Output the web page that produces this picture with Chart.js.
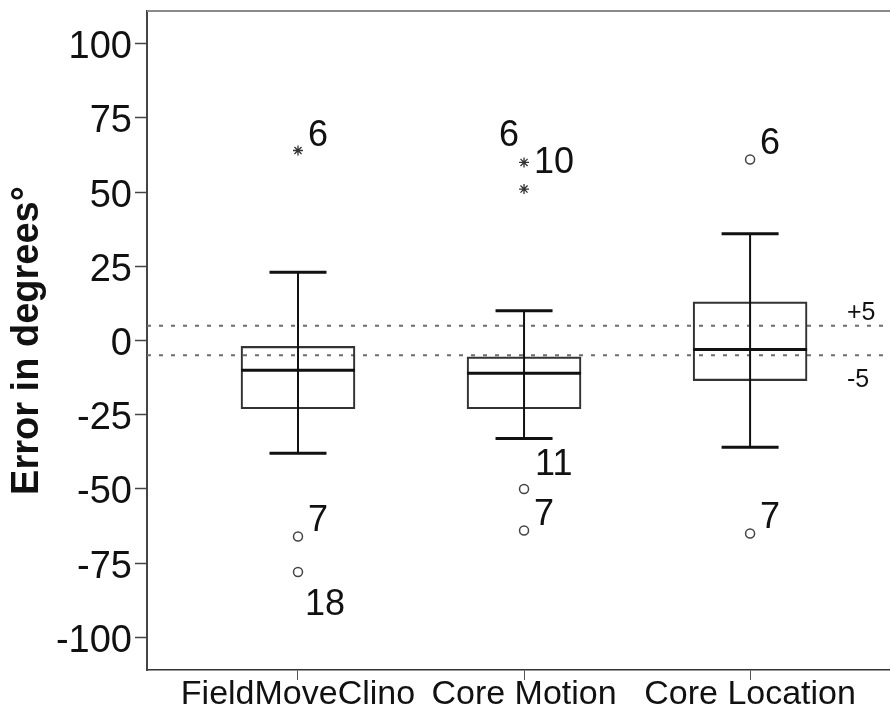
<!DOCTYPE html>
<html lang="en">
  <head>
    <meta charset="UTF-8"/>
    <title>Error in degrees</title>
    <style>
      body { margin: 0; background: #fff; }
    </style>
  </head>
  <body>
  <canvas id="myChart" width="890" height="722"></canvas>
  <script src="https://cdn.jsdelivr.net/npm/chart.js"></script>
  <script>
    const categories = ['FieldMoveClino', 'Core Motion', 'Core Location'];
    const whiskerLow = [-38, -33, -36];
    const q1 = [-23, -23, -13.5];
    const median = [-10, -11, -3];
    const q3 = [-2, -5.5, 13];
    const whiskerHigh = [23, 10, 36];
    // circles (outliers) and stars (extremes) per category
    const outliers = [[-66, -78], [-50, -64], [61, -65]];
    const extremes = [[64], [60, 51], []];
    // case numbers written next to the points
    const caseLabels = ['6', '7', '18', '6', '10', '11', '7', '6', '7'];
    const caseCats = [0, 0, 0, 1, 1, 1, 1, 2, 2];
    const caseValues = [64, -66, -78, 60, 60, -50, -64, 61, -65];
    const yTicks = [-100, -75, -50, -25, 0, 25, 50, 75, 100];
    const refLines = [5, -5];
    const refLabels = ['+5', '-5'];

    const FONT = "'Liberation Sans', Arial, sans-serif";
    // where each case label sits around its point: [dx, dy, align]
    const place = {
      ur: [10, -5, 'left'],
      ur2: [11, -14, 'left'],
      dr: [7, 43, 'left'],
      ul: [-5, -16, 'right'],
      r: [10, 11, 'left']
    };
    const casePlace = ['ur', 'ur', 'dr', 'ul', 'r', 'ur2', 'ur', 'ur', 'ur'];

    const boxPlugin = {
      id: 'boxes',
      beforeDatasetsDraw(chart) {
        const {ctx, chartArea: a, scales: {y}} = chart;
        ctx.save();
        ctx.strokeStyle = '#8a8a8a';
        ctx.lineWidth = 2;
        ctx.beginPath();
        ctx.moveTo(a.left, a.top);
        ctx.lineTo(a.right, a.top);
        ctx.stroke();
        ctx.setLineDash([4, 8]);
        ctx.strokeStyle = '#6c6c6c';
        refLines.forEach((v) => {
          const py = y.getPixelForValue(v);
          ctx.beginPath();
          ctx.moveTo(a.left, py);
          ctx.lineTo(a.right, py);
          ctx.stroke();
        });
        ctx.restore();
      },
      afterDatasetsDraw(chart) {
        const {ctx, chartArea: a, scales: {x, y}} = chart;
        const bars = chart.getDatasetMeta(0).data;
        ctx.save();
        categories.forEach((c, i) => {
          const px = x.getPixelForValue(i + 1);
          const w = bars[i].width;
          const top = y.getPixelForValue(whiskerHigh[i]);
          const bot = y.getPixelForValue(whiskerLow[i]);
          ctx.strokeStyle = '#111';
          ctx.lineWidth = 2;
          ctx.beginPath();
          ctx.moveTo(px, top);
          ctx.lineTo(px, bot);
          ctx.stroke();
          ctx.lineWidth = 3;
          ctx.beginPath();
          ctx.moveTo(px - w / 4, top);
          ctx.lineTo(px + w / 4, top);
          ctx.moveTo(px - w / 4, bot);
          ctx.lineTo(px + w / 4, bot);
          const med = y.getPixelForValue(median[i]);
          ctx.moveTo(px - w / 2, med);
          ctx.lineTo(px + w / 2, med);
          ctx.stroke();
        });
        ctx.fillStyle = '#111';
        ctx.textBaseline = 'alphabetic';
        ctx.font = '36px ' + FONT;
        caseLabels.forEach((t, i) => {
          const [dx, dy, align] = place[casePlace[i]];
          ctx.textAlign = align;
          ctx.fillText(t, x.getPixelForValue(caseCats[i] + 1) + dx, y.getPixelForValue(caseValues[i]) + dy);
        });
        ctx.font = '25px ' + FONT;
        ctx.textAlign = 'left';
        refLabels.forEach((t, i) => {
          const py = y.getPixelForValue(refLines[i]);
          ctx.fillText(t, a.right - 43, refLines[i] > 0 ? py - 6 : py + 32);
        });
        ctx.restore();
      }
    };

    const data = {
      datasets: [{
        type: 'bar',
        data: categories.map((c, i) => ({x: i + 1, y: [q1[i], q3[i]]})),
        backgroundColor: 'rgba(0,0,0,0)',
        borderColor: '#333',
        borderWidth: 1.5,
        borderSkipped: false,
        barThickness: 114
      }, {
        type: 'scatter',
        data: outliers.flatMap((vals, i) => vals.map((v) => ({x: i + 1, y: v}))),
        pointStyle: 'circle',
        pointRadius: 4.5,
        borderWidth: 1.5,
        borderColor: '#444',
        backgroundColor: '#fff'
      }, {
        type: 'scatter',
        data: extremes.flatMap((vals, i) => vals.map((v) => ({x: i + 1, y: v}))),
        pointStyle: 'star',
        pointRadius: 5,
        borderWidth: 1.3,
        borderColor: '#333'
      }]
    };

    const config = {
      type: 'bar',
      data,
      plugins: [boxPlugin],
      options: {
        responsive: false,
        animation: false,
        layout: {autoPadding: false, padding: {top: 11, right: 0, left: 0, bottom: 0}},
        plugins: {legend: {display: false}, tooltip: {enabled: false}},
        scales: {
          x: {
            type: 'linear',
            min: 0.332,
            max: 3.619,
            offset: false,
            afterBuildTicks: (s) => { s.ticks = categories.map((c, i) => ({value: i + 1})); },
            afterFit: (s) => { s.height = 52; s.paddingLeft = 0; s.paddingRight = 0; },
            grid: {offset: false, drawOnChartArea: false, tickLength: 10, tickColor: '#555', tickWidth: 1},
            border: {color: '#333', width: 1.5},
            ticks: {
              autoSkip: false,
              maxRotation: 0,
              padding: -2,
              color: '#111',
              font: {family: FONT, size: 34, lineHeight: 1},
              callback: (v) => categories[v - 1]
            }
          },
          y: {
            type: 'linear',
            min: -111,
            max: 111,
            afterBuildTicks: (s) => { s.ticks = yTicks.map((v) => ({value: v})); },
            afterFit: (s) => { s.width = 147; s.paddingTop = 0; s.paddingBottom = 0; },
            grid: {drawOnChartArea: false, tickLength: 12, tickColor: '#444', tickWidth: 1.5},
            border: {color: '#444', width: 2},
            ticks: {
              padding: 3,
              labelOffset: 4,
              color: '#111',
              font: {family: FONT, size: 38}
            },
            title: {
              display: true,
              text: 'Error in degrees°',
              color: '#111',
              padding: {top: 5, bottom: 0},
              font: {family: FONT, size: 38, weight: 'bold'}
            }
          }
        }
      }
    };

    var myChart = new Chart(document.getElementById('myChart'), config);
  </script>
  </body>
</html>
